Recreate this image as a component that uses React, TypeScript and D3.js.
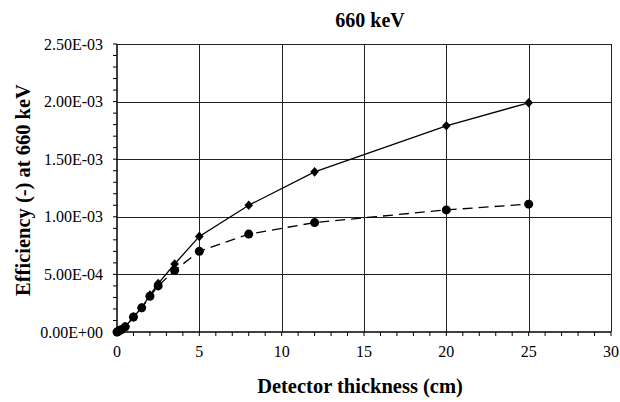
import React from "react";
import * as d3 from "d3";

const thickness = [0, 0.1, 0.25, 0.5, 1, 1.5, 2, 2.5, 3.5, 5, 8, 12, 20, 25];
const solidSeries = [0, 0.000008, 0.00002, 0.000045, 0.00013, 0.00021, 0.00032, 0.00042, 0.00059, 0.00083, 0.0011, 0.00139, 0.00179, 0.00199];
const dashedSeries = [0, 0.000008, 0.00002, 0.000045, 0.00013, 0.00021, 0.00031, 0.0004, 0.000535, 0.0007, 0.00085, 0.00095, 0.00106, 0.00111];
const yTicks = [0, 0.0005, 0.001, 0.0015, 0.002, 0.0025];
const yTickLabels = ["0.00E+00", "5.00E-04", "1.00E-03", "1.50E-03", "2.00E-03", "2.50E-03"];
const xTicks = [0, 5, 10, 15, 20, 25, 30];

const W = 620, H = 402;
const L = 117, R = 611, T = 44, B = 332;

export default function App() {
  const x = d3.scaleLinear().domain([0, 30]).range([L, R]);
  const y = d3.scaleLinear().domain([0, 0.0025]).range([B, T]);
  const line = d3.line<number>().x((_, i) => x(thickness[i])).y((d) => y(d));
  const yMinor = d3.range(0, 26).map((i) => i * 0.0001);
  const xMinor = d3.range(0, 31);
  const font = "'Liberation Serif', 'Times New Roman', serif";
  const diamond = "M0,-4.8L4.3,0L0,4.8L-4.3,0Z";

  return (
    <svg width={W} height={H} style={{ position: "absolute", left: 0, top: 0, background: "#fff" }} fontFamily={font}>
      <rect x={0} y={0} width={W} height={H} fill="#fff" />
      {/* grid */}
      {yTicks.slice(1).map((t) => (
        <line key={"gy" + t} x1={L} x2={R} y1={Math.round(y(t)) + 0.5} y2={Math.round(y(t)) + 0.5} stroke="#222" strokeWidth={1} />
      ))}
      {xTicks.slice(1).map((t) => (
        <line key={"gx" + t} x1={Math.round(x(t)) + 0.5} x2={Math.round(x(t)) + 0.5} y1={T} y2={B} stroke="#222" strokeWidth={1} />
      ))}
      {/* axes */}
      <line x1={L} x2={L} y1={T} y2={B} stroke="#000" strokeWidth={1.5} />
      <line x1={L} x2={R} y1={B} y2={B} stroke="#000" strokeWidth={1.5} />
      {yMinor.map((t, i) => (
        <line key={"ym" + i} x1={L - 4} x2={L} y1={y(t)} y2={y(t)} stroke="#000" strokeWidth={1} />
      ))}
      {xMinor.map((t) => (
        <line key={"xm" + t} x1={x(t)} x2={x(t)} y1={B} y2={B + 4} stroke="#000" strokeWidth={1} />
      ))}
      {/* tick labels */}
      {yTicks.map((t, i) => (
        <text key={"yl" + t} x={L - 14} y={y(t)} dy="0.35em" textAnchor="end" fontSize={16}>
          {yTickLabels[i]}
        </text>
      ))}
      {xTicks.map((t) => (
        <text key={"xl" + t} x={x(t)} y={357} textAnchor="middle" fontSize={16}>
          {t}
        </text>
      ))}
      {/* series */}
      <path d={line(dashedSeries) || ""} fill="none" stroke="#000" strokeWidth={1.3} strokeDasharray="10,6" />
      <path d={line(solidSeries) || ""} fill="none" stroke="#000" strokeWidth={1.3} />
      {dashedSeries.map((v, i) => (
        <circle key={"c" + i} cx={x(thickness[i])} cy={y(v)} r={4.5} fill="#000" />
      ))}
      {solidSeries.map((v, i) => (
        <path key={"d" + i} d={diamond} transform={`translate(${x(thickness[i])},${y(v)})`} fill="#000" />
      ))}
      {/* titles */}
      <text x={370} y={27} textAnchor="middle" fontSize={20} fontWeight="bold">660 keV</text>
      <text x={360} y={393} textAnchor="middle" fontSize={20.5} fontWeight="bold">Detector thickness (cm)</text>
      <text transform={`translate(30,190) rotate(-90)`} textAnchor="middle" fontSize={20.5} fontWeight="bold">Efficiency (-) at 660 keV</text>
    </svg>
  );
}
